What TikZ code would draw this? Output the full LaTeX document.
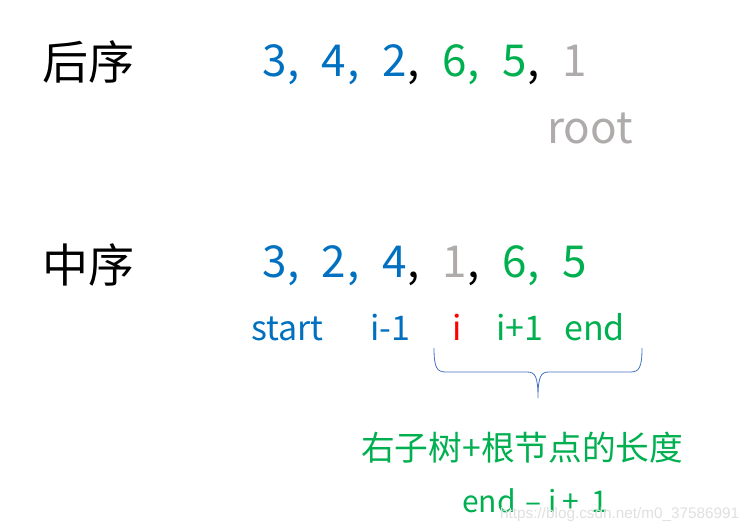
\documentclass[tikz,border=0pt]{standalone}
\usepackage{fontspec}
\setmainfont{Noto Sans CJK SC}
\newfontfamily\wmfont{Liberation Sans}
\definecolor{cblue}{HTML}{0070C0}
\definecolor{cgreen}{HTML}{00B050}
\definecolor{cgray}{HTML}{AFABAB}
\definecolor{cred}{HTML}{FF0000}
\definecolor{cbrace}{HTML}{4472C4}
\tikzset{
  big/.style={inner sep=0pt, anchor=base west, font=\fontsize{44}{44}\selectfont},
  lab/.style={inner sep=0pt, anchor=base west, font=\fontsize{34}{34}\selectfont},
  head/.style={inner sep=0pt, anchor=west, font=\fontsize{46}{46}\selectfont, text=black},
  frm/.style={inner sep=0pt, anchor=base west, font=\fontsize{30}{30}\selectfont, text=cgreen},
}
\begin{document}
\begin{tikzpicture}[x=1pt,y=-1pt]
\useasboundingbox[fill=white] (0,0) rectangle (754,532);
% headings
\node[head] (post) at (42,62) {后序};
\node[head] (in) at (42,265) {中序};
% postorder row
\node[big,text=cblue] (p1) at (262,77) {3};
\node[big,text=cblue] (pc1) at (287,77) {,};
\node[big,text=cblue] (p2) at (321,77) {4};
\node[big,text=cblue] (pc2) at (347,77) {,};
\node[big,text=cblue] (p3) at (382,77) {2};
\node[big,text=black] (pc3) at (407,77) {,};
\node[big,text=cgreen] (p4) at (442,77) {6};
\node[big,text=cgreen] (pc4) at (467,77) {,};
\node[big,text=cgreen] (p5) at (502,77) {5};
\node[big,text=black] (pc5) at (527,77) {,};
\node[big,text=cgray] (p6) at (562,77) {1};
\node[inner sep=0pt, anchor=base west, font=\fontsize{44}{44}\selectfont, text=cgray] (root) at (547,143) {root};
% inorder row
\node[big,text=cblue] (i1) at (262,277) {3};
\node[big,text=cblue] (ic1) at (287,277) {,};
\node[big,text=cblue] (i2) at (321,277) {2};
\node[big,text=cblue] (ic2) at (347,277) {,};
\node[big,text=cblue] (i3) at (382,277) {4};
\node[big,text=black] (ic3) at (407,277) {,};
\node[big,text=cgray] (i4) at (442,277) {1};
\node[big,text=black] (ic4) at (467,277) {,};
\node[big,text=cgreen] (i5) at (502,277) {6};
\node[big,text=cgreen] (ic5) at (527,277) {,};
\node[big,text=cgreen] (i6) at (562,277) {5};
% index labels
\node[lab,text=cblue] (start) at (251,340) {start};
\node[lab,text=cblue] (im1) at (370,340) {i-1};
\node[lab,text=cred] (ii) at (452,340) {i};
\node[lab,text=cgreen] (ip1) at (496,340) {i+1};
\node[lab,text=cgreen] (iend) at (564,340) {end};
% brace
\coordinate (bl) at (434,348);
\coordinate (br) at (642,348);
\coordinate (tip) at (538,398);
\draw[cbrace, line width=0.8pt]
  (bl) .. controls (434,368) and (437,372) .. (446,372) -- (527,372)
       .. controls (535,372) and (538,376) .. (tip)
       .. controls (538,376) and (541,372) .. (549,372) -- (630,372)
       .. controls (639,372) and (642,368) .. (br);
% explanation
\node[inner sep=0pt, anchor=west, font=\fontsize{33.7}{33.7}\selectfont, text=cgreen] (len) at (361,448) {右子树+根节点的长度};
\node[frm] (f1) at (462,512) {end};
\node[frm] (f2) at (525,512) {–};
\node[frm] (f3) at (548,512) {i};
\node[frm] (f4) at (562,512) {+};
\node[frm] (f5) at (591,512) {1};
% watermark
\node[inner sep=0pt, anchor=base west, font=\wmfont\fontsize{15.3}{15.3}\selectfont, text=black!12] (wm) at (500,518) {https://blog.csdn.net/m0\_37586991};
\end{tikzpicture}
\end{document}
